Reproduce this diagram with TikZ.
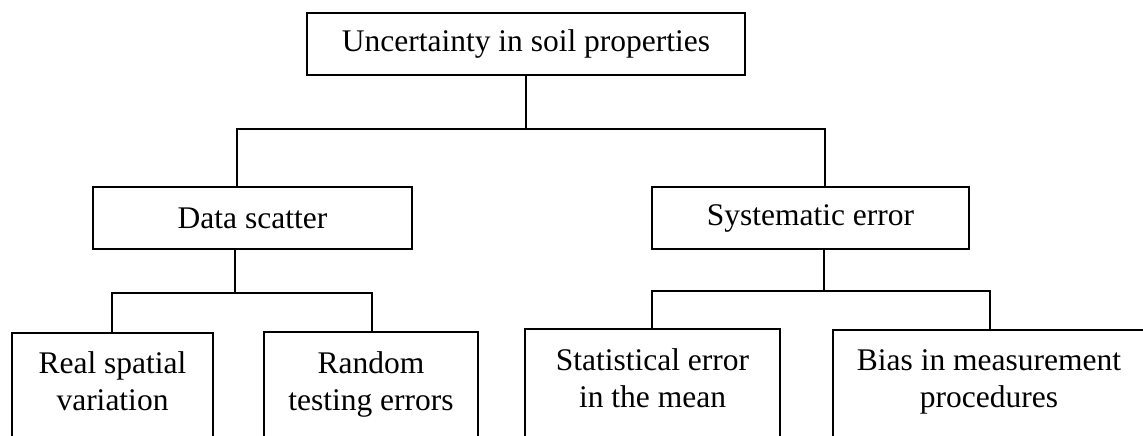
\documentclass[tikz,border=0pt]{standalone}
\usepackage{fontspec}
\setmainfont{Liberation Serif}
\begin{document}
\begin{tikzpicture}[x=1pt,y=-1pt,line width=1.3pt,
  box/.style={draw, inner sep=0pt},
  lbl/.style={font=\fontsize{31.5}{37}\selectfont, align=center, inner sep=0pt},
  link/.style={draw, line width=1.3pt}]
\useasboundingbox (0,0) rectangle (1143,436);
\clip (0,0) rectangle (1143,436);
% level 0
\node[box, lbl, minimum width=438pt, minimum height=62pt] (root) at (526,44) {\raisebox{-2pt}{Uncertainty in soil properties}};
% level 1
\node[box, lbl, minimum width=319pt, minimum height=62pt] (ds) at (252.5,218) {\raisebox{-2pt}{Data scatter}};
\node[box, lbl, minimum width=317pt, minimum height=62pt] (se) at (810.5,218) {\raisebox{-2pt}{Systematic error}};
% level 2 boxes (cut by the picture's lower edge)
\node[box, minimum width=201pt, minimum height=147pt] (rs) at (112.5,406.5) {};
\node[box, minimum width=214pt, minimum height=148pt] (rt) at (371,406) {};
\node[box, minimum width=255pt, minimum height=151pt] (sm) at (652.5,404.5) {};
\node[box, minimum width=312pt, minimum height=150pt] (bm) at (989,405) {};
% level 2 texts
\node[lbl, anchor=north] (rsT) at (112.5,347) {\strut Real spatial\\variation};
\node[lbl, anchor=north] (rtT) at (371,347) {\strut Random\\testing errors};
\node[lbl, anchor=north] (smT) at (652.5,343.5) {\strut Statistical error\\in the mean};
\node[lbl, anchor=north] (bmT) at (989,343.5) {\strut Bias in measurement\\procedures};
% connectors
\coordinate (j0) at (526,129);
\coordinate (j0l) at (237,129);
\coordinate (j0r) at (825,129);
\draw[link] (root.south) -- (j0);
\draw[link] (j0l |- ds.north) -- (j0l) -- (j0r) -- (j0r |- se.north);
\coordinate (j1) at (235,293);
\coordinate (j1l) at (112,293);
\coordinate (j1r) at (372,293);
\draw[link] (ds.south -| j1) -- (j1);
\draw[link] (j1l |- rs.north) -- (j1l) -- (j1r) -- (j1r |- rt.north);
\coordinate (j2) at (824,291);
\coordinate (j2l) at (652,291);
\coordinate (j2r) at (990,291);
\draw[link] (se.south -| j2) -- (j2);
\draw[link] (j2l |- sm.north) -- (j2l) -- (j2r) -- (j2r |- bm.north);
\end{tikzpicture}
\end{document}
